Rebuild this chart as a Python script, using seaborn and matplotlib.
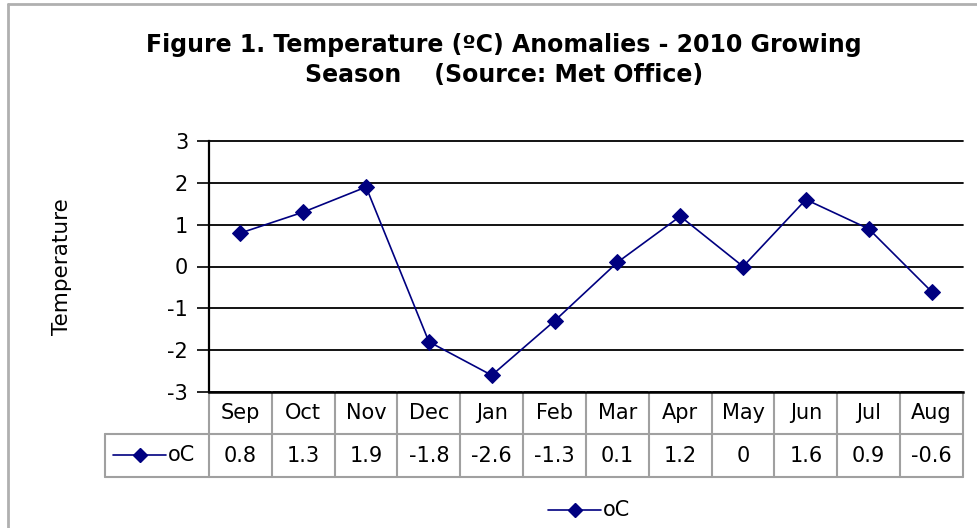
import matplotlib
matplotlib.use("Agg")
import matplotlib.pyplot as plt
import matplotlib.transforms as mtransforms
from matplotlib.lines import Line2D
import seaborn as sns
import pandas as pd

months = ["Sep", "Oct", "Nov", "Dec", "Jan", "Feb", "Mar", "Apr", "May", "Jun", "Jul", "Aug"]
values = [0.8, 1.3, 1.9, -1.8, -2.6, -1.3, 0.1, 1.2, 0, 1.6, 0.9, -0.6]
value_labels = ["0.8", "1.3", "1.9", "-1.8", "-2.6", "-1.3", "0.1", "1.2", "0", "1.6", "0.9", "-0.6"]
yticks = [-3, -2, -1, 0, 1, 2, 3]
series_name = "oC"
title = "Figure 1. Temperature (ºC) Anomalies - 2010 Growing\nSeason    (Source: Met Office)"

sns.set_theme(style="white")
plt.rcParams['font.family'] = ['DejaVu Sans']
plt.rcParams['text.color'] = 'black'
plt.rcParams['axes.labelcolor'] = 'black'
plt.rcParams['xtick.color'] = 'black'
plt.rcParams['ytick.color'] = 'black'

W, H = 978, 528
fig = plt.figure(figsize=(W / 100, H / 100), dpi=100)
fig.patch.set_facecolor("white")

L, R, T, B = 209, 963, 141, 392
ax = fig.add_axes([L / W, 1 - B / H, (R - L) / W, (B - T) / H])

df = pd.DataFrame({"x": range(len(months)), "y": values})
navy = "#000080"
sns.lineplot(data=df, x="x", y="y", ax=ax, color=navy, lw=1.2, marker="D",
             markersize=8, markeredgecolor=navy, markerfacecolor=navy)

ax.set_xlim(-0.5, len(months) - 0.5)
ax.set_ylim(-3, 3)
ax.set_yticks(yticks)
ax.set_yticklabels([str(v) for v in yticks], fontsize=15)
ax.set_xticks([])
ax.set_xlabel("")
ax.set_ylabel("Temperature", fontsize=15.5, labelpad=0)
ax.yaxis.set_label_coords((72 - L) / (R - L), 0.5)
ax.tick_params(axis="y", length=9, width=1.2, color="black", direction="out", pad=6, left=True)
for v in yticks:
    ax.axhline(v, color="black", lw=1.3, zorder=0, clip_on=False)
for s in ["top", "right"]:
    ax.spines[s].set_visible(False)
ax.spines["left"].set_color("black")
ax.spines["left"].set_linewidth(1.6)
ax.spines["bottom"].set_color("black")
ax.spines["bottom"].set_linewidth(1.8)
ax.set_facecolor("white")
ax.grid(False)

# data table below axes
trans = mtransforms.blended_transform_factory(ax.transData, ax.transAxes)
ph = B - T
row_h = 42 / ph
y0 = 0
y1 = -row_h
y2 = -2 * row_h - 1 / ph
gray = "#a0a0a0"
n = len(months)
for i in range(n + 1):
    xv = i - 0.5
    ax.add_line(Line2D([xv, xv], [y0, y2], transform=trans, color=gray,
                       lw=1.5, clip_on=False))
ax.add_line(Line2D([-0.5, n - 0.5], [y1, y1], transform=trans, color=gray, lw=1.5, clip_on=False))
ax.add_line(Line2D([-0.5, n - 0.5], [y2, y2], transform=trans, color=gray, lw=1.5, clip_on=False))
for i, (m, vl) in enumerate(zip(months, value_labels)):
    ax.text(i, (y0 + y1) / 2, m, transform=trans, ha="center", va="center", fontsize=15)
    ax.text(i, (y1 + y2) / 2, vl, transform=trans, ha="center", va="center", fontsize=15)

# legend cell in table
fx = lambda px: px / W
fy = lambda py: 1 - py / H
cell_left = 105
fig.add_artist(Line2D([fx(cell_left), fx(L)], [fy(434), fy(434)], color=gray, lw=1.5))
fig.add_artist(Line2D([fx(cell_left), fx(L)], [fy(477), fy(477)], color=gray, lw=1.5))
fig.add_artist(Line2D([fx(cell_left), fx(cell_left)], [fy(434), fy(477)], color=gray, lw=1.5))
fig.add_artist(Line2D([fx(113), fx(166)], [fy(455), fy(455)], color=navy, lw=1.2))
fig.add_artist(Line2D([fx(140)], [fy(455)], color=navy, marker="D", markersize=7))
fig.text(fx(168), fy(455), series_name, ha="left", va="center", fontsize=15)

# bottom legend
fig.add_artist(Line2D([fx(548), fx(601)], [fy(510), fy(510)], color=navy, lw=1.2))
fig.add_artist(Line2D([fx(575)], [fy(510)], color=navy, marker="D", markersize=7))
fig.text(fx(603), fy(510), series_name, ha="left", va="center", fontsize=15)

# title
fig.text(fx(504), fy(60), title, ha="center", va="center", fontsize=17, fontweight="bold",
         linespacing=1.3)

# outer border
bcol = "#b0b0b0"
fig.add_artist(Line2D([fx(8), fx(8)], [fy(4), fy(528)], color=bcol, lw=2))
fig.add_artist(Line2D([fx(8), fx(978)], [fy(4), fy(4)], color=bcol, lw=2))

fig.savefig("out.png", dpi=100, facecolor="white")
